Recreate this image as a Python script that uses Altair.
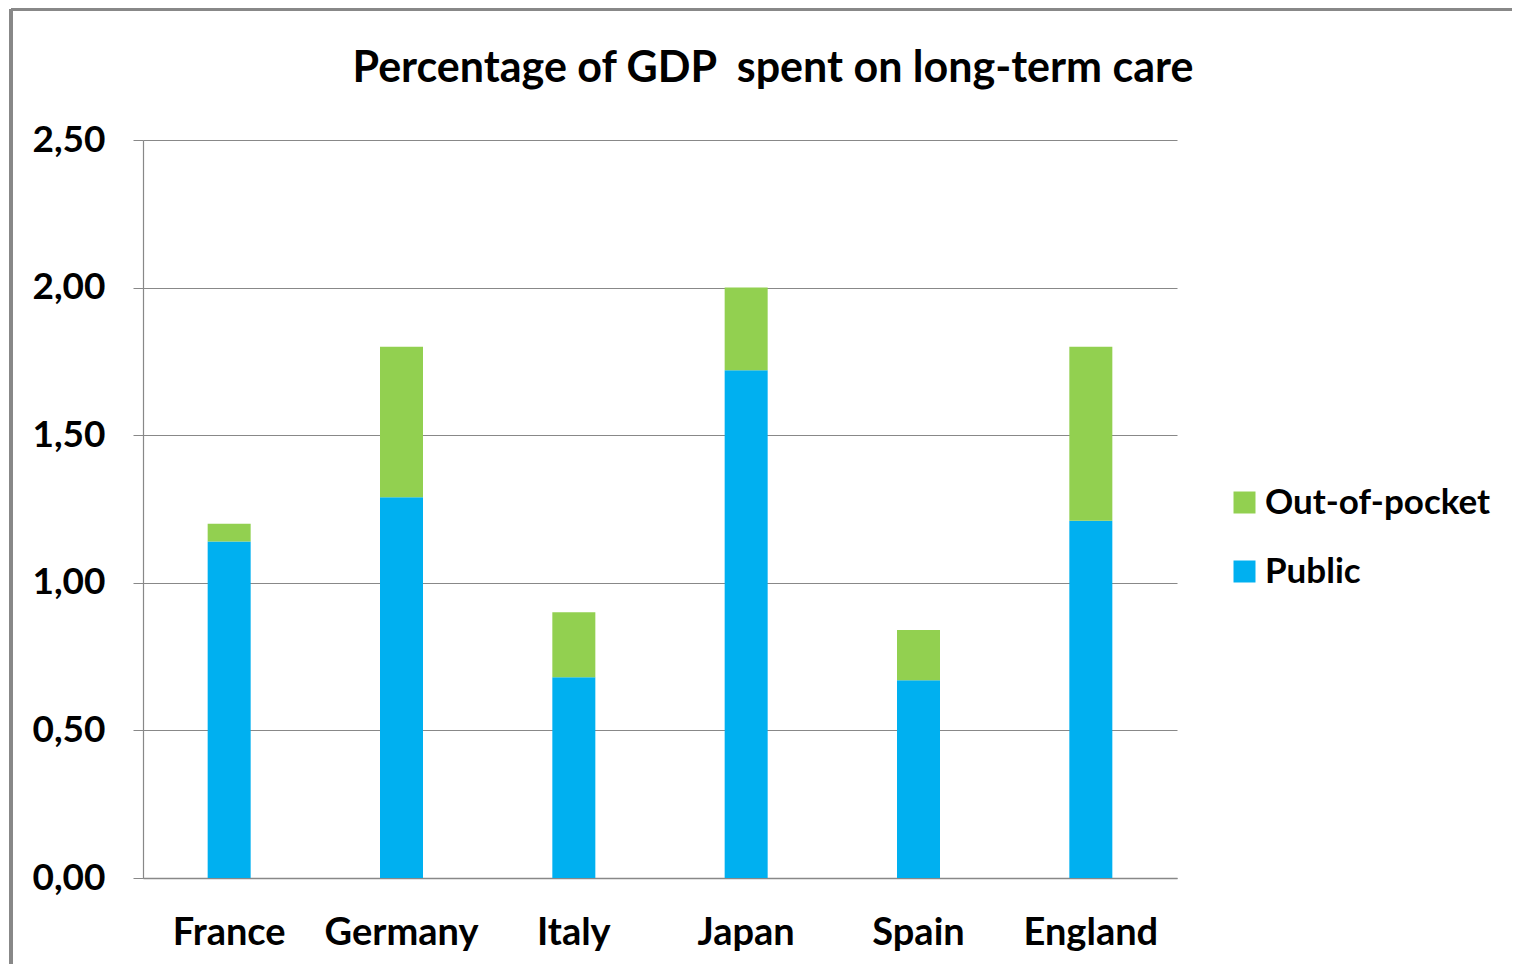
import altair as alt
import pandas as pd

countries = ["France", "Germany", "Italy", "Japan", "Spain", "England"]
public = [1.14, 1.29, 0.68, 1.72, 0.67, 1.21]
out_of_pocket = [0.06, 0.51, 0.22, 0.28, 0.17, 0.59]
series = ["Out-of-pocket", "Public"]
colors = ["#92D050", "#00B0F0"]
y_ticks = [0, 0.5, 1.0, 1.5, 2.0, 2.5]

rows = []
for c, p, o in zip(countries, public, out_of_pocket):
    rows.append({"Country": c, "Type": "Public", "Value": p, "ord": 0})
    rows.append({"Country": c, "Type": "Out-of-pocket", "Value": o, "ord": 1})
df = pd.DataFrame(rows)

FONT = "Lato"

bars = alt.Chart(df).mark_bar(width=43).encode(
    x=alt.X("Country:N", sort=countries, title=None,
            scale=alt.Scale(paddingInner=0.0, paddingOuter=0.0),
            axis=alt.Axis(labelAngle=0, ticks=False, domainColor="#888888",
                          labelPadding=36, labelFontSize=38, labelFont=FONT,
                          labelFontWeight="bold", labelColor="#000000",
                          domainWidth=1.5)),
    y=alt.Y("Value:Q", stack="zero", title=None,
            scale=alt.Scale(domain=[0, 2.5], nice=False),
            axis=alt.Axis(values=y_ticks, grid=True, gridColor="#888888",
                          gridWidth=1.2, tickColor="#888888", tickSize=10,
                          domainColor="#888888", domainWidth=1.2,
                          labelExpr="replace(format(datum.value, '.2f'), '.', ',')",
                          labelPadding=28, labelFontSize=37, labelFont=FONT,
                          labelFontWeight="bold", labelColor="#000000")),
    color=alt.Color("Type:N", scale=alt.Scale(domain=series, range=colors),
                    legend=alt.Legend(title=None, orient="none", legendX=1084,
                                      legendY=345, symbolType="square",
                                      symbolSize=484, symbolStrokeWidth=0,
                                      labelFontSize=35, labelFont=FONT,
                                      labelFontWeight="bold", labelColor="#000000",
                                      labelLimit=0, rowPadding=33, labelOffset=3)),
    order=alt.Order("ord:Q"),
)

frame_top = alt.Chart(df).mark_rule(color="#888888", strokeWidth=3, clip=False).encode(
    x=alt.value(-132), x2=alt.value(1500), y=alt.value(-131)
)
frame_left = alt.Chart(df).mark_rule(color="#888888", strokeWidth=3, clip=False).encode(
    x=alt.value(-132), y=alt.value(-131), y2=alt.value(1000)
)

chart = alt.layer(bars, frame_top, frame_left).properties(
    width=1034, height=738,
    padding={"left": 135, "top": 132, "right": 335, "bottom": 86},
    autosize=alt.AutoSizeParams(type="none"),
    title=alt.TitleParams("Percentage of GDP\u00a0 spent on long-term care", font=FONT,
                          fontSize=43, fontWeight="bold", color="#000000",
                          anchor="middle", dx=113, dy=117, offset=0,
                          baseline="alphabetic"),
).configure_view(stroke=None)

chart.save("out.html", embed_options={"renderer": "svg", "actions": False})
